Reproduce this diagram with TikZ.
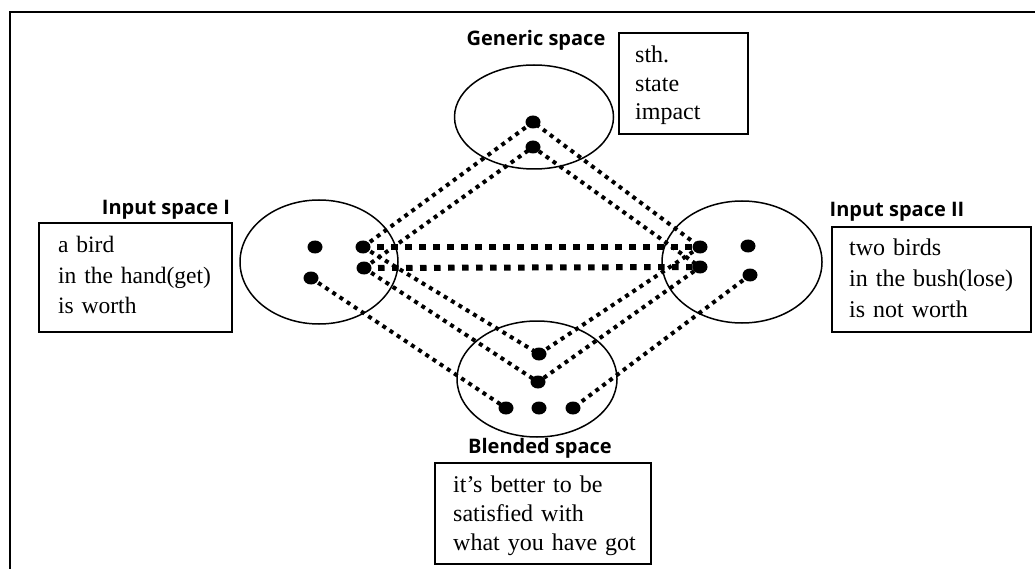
\documentclass[tikz,border=0pt]{standalone}
\usepackage{fontspec}
\setmainfont{Liberation Serif}
\newfontfamily\labelfont{Open Sans}
\usetikzlibrary{shapes.geometric}

\tikzset{
  frameline/.style={line width=2pt},
  space/.style={ellipse, draw, line width=1.5pt, inner sep=0pt},
  elem/.style={ellipse, fill=black, inner sep=0pt, minimum width=15pt, minimum height=13pt},
  mapline/.style={line width=4pt, dash pattern=on 4pt off 4.6pt},
  crossline/.style={line width=6pt, dash pattern=on 6.5pt off 7.5pt},
  textbox/.style={rectangle, draw, line width=1.8pt, inner sep=0pt},
  boxtext/.style={anchor=base west, inner sep=0pt, align=left, text width=200pt,
    font=\fontsize{23.5}{30}\selectfont},
  spacename/.style={font=\labelfont\bfseries\fontsize{20}{22}\selectfont, inner sep=0pt},
}

\begin{document}
\begin{tikzpicture}[x=1pt, y=-1pt]
\useasboundingbox (0,0) rectangle (1035,569);

% page frame (top and left edges)
\draw[frameline] (1035,12) -- (10,12) -- (10,569);

% the four mental spaces
\node[space, minimum width=159pt, minimum height=104pt] (generic) at (534,117) {};
\node[space, minimum width=158pt, minimum height=124pt] (inputI)  at (319,262) {};
\node[space, minimum width=160pt, minimum height=122pt] (inputII) at (742,262) {};
\node[space, minimum width=160pt, minimum height=116pt] (blend)   at (537,379) {};

% elements of the spaces
\node[elem] (g1) at (533,122) {};
\node[elem] (g2) at (533,147) {};

\node[elem] (a1) at (315,247) {};
\node[elem] (a2) at (363,247) {};
\node[elem] (a3) at (311,278) {};
\node[elem] (a4) at (364,268) {};

\node[elem] (b1) at (700,247) {};
\node[elem] (b2) at (748,246) {};
\node[elem] (b3) at (700,267) {};
\node[elem] (b4) at (750,275) {};

\node[elem] (c1) at (539,354) {};
\node[elem] (c2) at (538,382) {};
\node[elem] (c3) at (506,408) {};
\node[elem] (c4) at (539,408) {};
\node[elem] (c5) at (573,408) {};

% cross-space mappings between the inputs
\draw[crossline] (a2.center) -- (b1.center);
\draw[crossline] (a4.center) -- (b3.center);

% projections to the generic space
\draw[mapline] (a2.center) -- (g1.center) -- (b1.center);
\draw[mapline] (a4.center) -- (g2.center) -- (b3.center);

% projections to the blended space
\draw[mapline] (a2.center) -- (c1.center) -- (b1.center);
\draw[mapline] (a4.center) -- (c2.center) -- (b3.center);
\draw[mapline] (a3.center) -- (c3.center);
\draw[mapline] (b4.center) -- (c5.center);

% space names
\node[spacename] (ngeneric) at (536,40)  {Generic space};
\node[spacename] (ninputI)  at (166,210) {Input space I};
\node[spacename] (ninputII) at (897,212) {Input space II};
\node[spacename] (nblend)   at (540,448) {Blended space};

% contents of the spaces
\node[textbox, minimum width=129pt, minimum height=101pt] (bgeneric) at (683.5,83.5) {};
\node[boxtext, font=\fontsize{24}{28.5}\selectfont] (tgeneric) at (635,63) {sth.\\state\\impact};

\node[textbox, minimum width=193pt, minimum height=109pt] (binputI) at (135.5,277.5) {};
\node[boxtext] (tinputI) at (58,253) {a bird\\in the hand(get)\\is worth};

\node[textbox, minimum width=199pt, minimum height=105pt] (binputII) at (931.5,279.5) {};
\node[boxtext, font=\fontsize{24}{31}\selectfont] (tinputII) at (849,255) {two birds\\in the bush(lose)\\is not worth};

\node[textbox, minimum width=216pt, minimum height=101pt] (bblend) at (543,513.5) {};
\node[boxtext, font=\fontsize{24}{29}\selectfont] (tblend) at (453,492) {it’s better to be\\satisfied with\\what you have got};
\end{tikzpicture}
\end{document}
